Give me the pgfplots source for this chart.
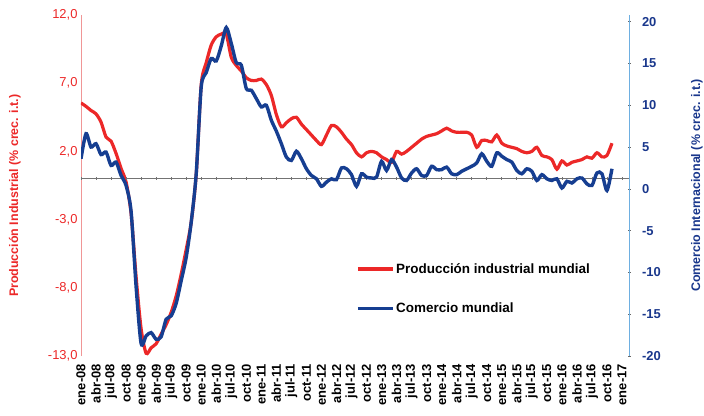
\documentclass[border=0pt]{standalone}
\usepackage{pgfplots}
\pgfplotsset{compat=1.18}
\usepackage{pgfplotstable}
\usepackage{fontspec}
\setmainfont{Liberation Sans}
\definecolor{pred}{RGB}{236,40,40}
\definecolor{lred}{RGB}{240,150,150}
\definecolor{pblue}{RGB}{22,62,145}
\definecolor{lblue}{RGB}{110,175,225}
\definecolor{dblue}{RGB}{25,55,140}

\pgfplotstableread{
m v
0 5.55
1 5.3
2 5.0
3 4.75
4 4.15
5 3.05
6 2.75
7 1.85
8 0.75
9 -0.25
10 -2.55
11 -7.2
12 -11.0
13 -12.8
14 -12.4
15 -12.1
16 -11.4
17 -10.7
18 -9.8
19 -8.6
20 -7.0
21 -5.2
22 -3.2
23 0.3
24 6.9
25 8.5
26 9.8
27 10.4
28 10.6
29 10.6
30 8.9
31 8.3
32 7.9
33 7.4
34 7.2
35 7.2
36 7.3
37 6.9
38 6.1
39 4.7
40 3.8
41 4.1
42 4.4
43 4.5
44 4.0
45 3.6
46 3.2
47 2.8
48 2.5
49 3.2
50 3.9
51 3.8
52 3.4
53 2.9
54 2.5
55 1.9
56 1.6
57 1.9
58 2.0
59 1.9
60 1.6
61 1.4
62 1.2
63 2.0
64 1.8
65 2.0
66 2.3
67 2.6
68 2.9
69 3.1
70 3.2
71 3.3
72 3.5
73 3.7
74 3.5
75 3.4
76 3.4
77 3.4
78 3.2
79 2.3
80 2.8
81 2.8
82 2.7
83 3.2
84 2.6
85 2.4
86 2.3
87 2.2
88 2.0
89 1.9
90 2.0
91 2.3
92 1.7
93 1.6
94 1.4
95 0.7
96 1.3
97 1.0
98 1.2
99 1.3
100 1.4
101 1.6
102 1.5
103 1.9
104 1.6
105 1.7
106 2.6
}\prodtable

\pgfplotstableread{
m v
0 3.6
1 6.6
2 5.0
3 5.4
4 4.1
5 4.4
6 2.8
7 3.2
8 1.6
9 0.4
10 -2.7
11 -11.7
12 -18.5
13 -17.6
14 -17.2
15 -18.0
16 -17.7
17 -15.6
18 -15.2
19 -13.7
20 -11.0
21 -8.2
22 -4.0
23 1.8
24 12.2
25 13.9
26 15.6
27 15.3
28 17.1
29 19.3
30 17.4
31 15.1
32 14.8
33 12.0
34 11.8
35 10.8
36 9.8
37 10.0
38 8.2
39 6.9
40 5.4
41 3.8
42 3.4
43 4.5
44 3.6
45 2.4
46 1.6
47 1.2
48 0.3
49 0.8
50 1.2
51 1.1
52 2.5
53 2.4
54 1.7
55 0.3
56 1.8
57 1.4
58 1.3
59 1.4
60 3.3
61 2.2
62 3.5
63 2.6
64 1.3
65 1.0
66 1.9
67 2.4
68 1.6
69 1.6
70 2.7
71 2.3
72 2.3
73 2.6
74 1.8
75 1.7
76 2.1
77 2.4
78 2.7
79 3.1
80 4.2
81 3.3
82 2.7
83 4.3
84 3.9
85 3.5
86 3.2
87 2.2
88 1.8
89 2.4
90 2.1
91 1.0
92 1.7
93 1.2
94 1.0
95 1.2
96 0.1
97 0.9
98 0.7
99 1.2
100 1.3
101 0.6
102 0.4
103 1.9
104 1.8
105 -0.2
106 2.4
}\tradetable

\begin{document}
\begin{tikzpicture}
\path[use as bounding box] (-81bp,-60bp) rectangle (623bp,356bp);
\begin{axis}[
  at={(0,0)}, anchor=south west,
  scale only axis, width=548bp, height=341bp,
  xmin=0, xmax=109.4, ymin=-13, ymax=12,
  axis y line*=left, axis x line*=bottom,
  x axis line style={draw=none},
  y axis line style={draw=lred, line width=0.8bp, -},
  xtick={0,3,...,108},
  xticklabels={ene-08,abr-08,jul-08,oct-08,ene-09,abr-09,jul-09,oct-09,ene-10,abr-10,jul-10,oct-10,ene-11,abr-11,jul-11,oct-11,ene-12,abr-12,jul-12,oct-12,ene-13,abr-13,jul-13,oct-13,ene-14,abr-14,jul-14,oct-14,ene-15,abr-15,jul-15,oct-15,ene-16,abr-16,jul-16,oct-16,ene-17},
  xtick style={draw=none},
  xticklabel style={rotate=90, anchor=east, inner sep=0pt, font=\bfseries\fontsize{13}{13}\selectfont},
  xticklabel shift=8bp,
  ytick={-13,-8,-3,2,7,12},
  yticklabels={{-13,0},{-8,0},{-3,0},{2,0},{7,0},{12,0}},
  ytick style={draw=none},
  yticklabel style={text=pred, font=\fontsize{13}{13}\selectfont},
  ylabel={Producción Industrial (\% crec. i.t.)},
  ylabel style={at={(axis description cs:-0.1205,0.47)}, anchor=center, text=pred, font=\bfseries\fontsize{12.5}{13}\selectfont},
  legend style={at={(axis description cs:0.502,0.277)}, anchor=north west, draw=none, fill=none,
    font=\bfseries\fontsize{13.5}{14}\selectfont, row sep=25bp, inner sep=0pt,
    nodes={inner sep=1.5bp}},
  legend cell align=left,
  legend image code/.code={\draw[#1] (0bp,0bp) -- (35bp,0bp);},
]
\addplot[forget plot, draw=black!55, line width=0.6bp] coordinates {(0,0) (109.4,0)};
\addplot[forget plot, only marks, mark=|, mark size=1.8bp, mark options={draw=black!55, line width=0.6bp}] coordinates {(0,0)(3,0)(6,0)(9,0)(12,0)(15,0)(18,0)(21,0)(24,0)(27,0)(30,0)(33,0)(36,0)(39,0)(42,0)(45,0)(48,0)(51,0)(54,0)(57,0)(60,0)(63,0)(66,0)(69,0)(72,0)(75,0)(78,0)(81,0)(84,0)(87,0)(90,0)(93,0)(96,0)(99,0)(102,0)(105,0)(108,0)};
\addplot[pred, line width=3.2bp, smooth, tension=0.45] table[x=m, y=v] {\prodtable};
\addlegendentry{Producción industrial mundial}
\addlegendimage{pblue, line width=3.4bp}
\addlegendentry{Comercio mundial}
\end{axis}
\begin{axis}[
  at={(0,0)}, anchor=south west,
  scale only axis, width=548bp, height=341bp,
  xmin=0, xmax=109.4, ymin=-20, ymax=20.8,
  axis y line*=right, axis x line=none,
  y axis line style={draw=lblue, line width=1bp, -},
  ytick={-20,-15,-10,-5,0,5,10,15,20},
  yticklabels={-20,-15,-10,-5,0,5,10,15,20},
  ytick style={draw=black!60, line width=0.6bp},
  tick align=center, major tick length=3bp,
  yticklabel style={text=dblue, anchor=west, font=\bfseries\fontsize{13}{13}\selectfont},
  yticklabel shift=8bp,
  ylabel={Comercio Internacional (\% crec. i.t.)},
  ylabel style={at={(axis description cs:1.124,0.50)}, anchor=center, text=dblue, font=\bfseries\fontsize{12.5}{13}\selectfont},
]
\addplot[pblue, line width=3.4bp, smooth, tension=0.45] table[x=m, y=v] {\tradetable};
\end{axis}
\end{tikzpicture}
\end{document}
